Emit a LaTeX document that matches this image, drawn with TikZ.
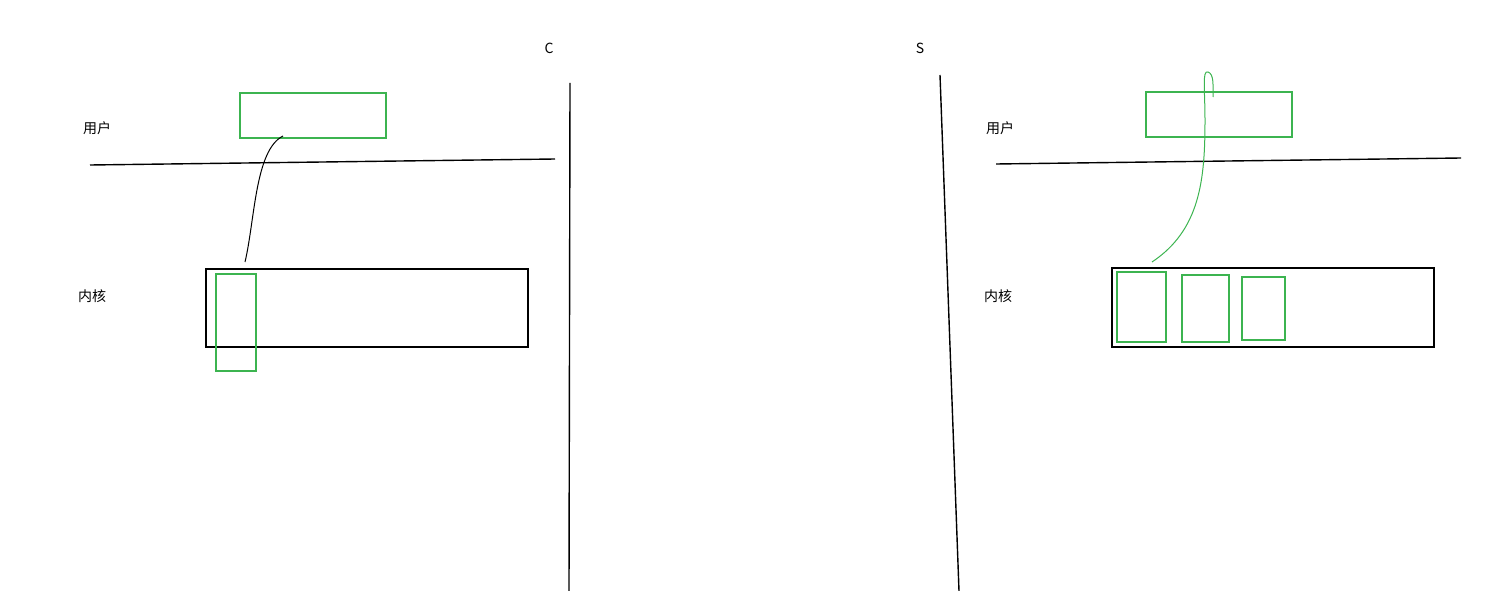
\documentclass[tikz,border=0pt]{standalone}
\usepackage{fontspec}
\newfontfamily\cjk{Noto Sans CJK SC}
\definecolor{gr}{RGB}{60,180,80}
\begin{document}
\begin{tikzpicture}[x=1pt,y=-1pt,
  lbl/.style={font=\cjk\fontsize{14}{16}\selectfont,inner sep=0},
  gbox/.style={draw=gr,line width=1.6pt},
  kbox/.style={draw=black,line width=1.4pt},
  ln/.style={line width=1.4pt}]
\useasboundingbox (0,0) rectangle (1489,591);
\node[lbl] (c) at (549,48) {C};
\node[lbl] (s) at (920,48) {S};
\draw[ln] (570,83) -- (569,591);
\draw[ln] (940,75) -- (959,591);
% left
\node[lbl] (u1) at (97,128) {用户};
\node[lbl] (k1) at (92,296) {内核};
\draw[gbox] (240,93) rectangle (386,138);
\draw[ln] (90,165) -- (555,159);
\draw[kbox] (206,269) rectangle (528,347);
\draw[gbox] (216,274) rectangle (256,371);
\draw[line width=1pt] (283,136) .. controls (255,150) and (255,220) .. (245,262);
% right
\node[lbl] (u2) at (1000,128) {用户};
\node[lbl] (k2) at (998,296) {内核};
\draw[gbox] (1146,92) rectangle (1292,137);
\draw[ln] (996,164) -- (1461,158);
\draw[kbox] (1112,268) rectangle (1434,347);
\draw[gbox] (1117,272) rectangle (1166,342);
\draw[gbox] (1182,275) rectangle (1229,342);
\draw[gbox] (1242,277) rectangle (1285,340);
\draw[draw=gr,line width=1pt] (1152,262) .. controls (1200,230) and (1205,180) .. (1205,120)
  .. controls (1205,90) and (1202,70) .. (1208,72) .. controls (1214,74) and (1213,85) .. (1213,97);
\end{tikzpicture}
\end{document}
